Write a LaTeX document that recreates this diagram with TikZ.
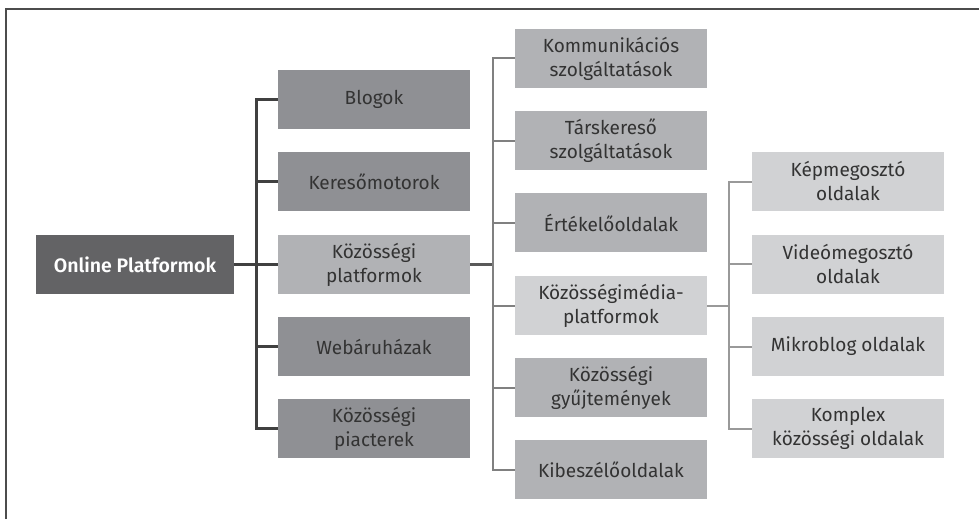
\documentclass[tikz,border=0pt]{standalone}
\usepackage{fontspec}
\setmainfont{Fira Sans}[BoldFont=Fira Sans SemiBold]
\definecolor{rootgray}{HTML}{636365}
\definecolor{darkbox}{HTML}{8F9094}
\definecolor{midbox}{HTML}{B1B2B5}
\definecolor{lightbox}{HTML}{D1D2D4}
\definecolor{inkgray}{HTML}{333333}
\tikzset{
  box/.style={minimum width=192pt,minimum height=59pt,inner sep=0pt,
    align=center,text=inkgray,font=\fontsize{19}{24}\selectfont},
  rootbox/.style={box,fill=rootgray,minimum width=198pt,text=white,
    font=\fontsize{19.5}{24}\selectfont\bfseries},
  dbox/.style={box,fill=darkbox},
  mbox/.style={box,fill=midbox},
  lbox/.style={box,fill=lightbox},
  linkA/.style={draw=black!75,line width=3pt},
  linkB/.style={draw=black!50,line width=2pt},
  linkC/.style={draw=black!40,line width=2pt}
}
\begin{document}
\begin{tikzpicture}[x=1pt,y=-1pt]
 \useasboundingbox (0,0) rectangle (979,519);
 \draw[black!70,line width=1.5pt] (6,519) -- (6,9) -- (979,9);
 % root
 \node[rootbox] (root) at (135,264.5) {Online Platformok};
 % first level
 \node[dbox] (blog) at (374,99.5) {Blogok};
 \node[dbox] (kereso) at (374,181.5) {Keresőmotorok};
 \node[mbox] (kozplat) at (374,264.5) {Közösségi\\platformok};
 \node[dbox] (webaru) at (374,346.5) {Webáruházak};
 \node[dbox] (piac) at (374,428.5) {Közösségi\\piacterek};
 % second level
 \node[mbox] (komm) at (611,58.5) {Kommunikációs\\szolgáltatások};
 \node[mbox] (tars) at (611,140.5) {Társkereső\\szolgáltatások};
 \node[mbox] (ertek) at (611,222.5) {Értékelőoldalak};
 \node[lbox] (media) at (611,305.5) {Közösségimédia-\\platformok};
 \node[mbox] (gyujt) at (611,387.5) {Közösségi\\gyűjtemények};
 \node[mbox] (kibesz) at (611,469.5) {Kibeszélőoldalak};
 % third level
 \node[lbox] (kep) at (848,181.5) {Képmegosztó\\oldalak};
 \node[lbox] (video) at (848,264) {Videómegosztó\\oldalak};
 \node[lbox] (mikro) at (848,346.5) {Mikroblog oldalak};
 \node[lbox] (komplex) at (848,428.5) {Komplex\\közösségi oldalak};
 % connectors
 \draw[linkA] (root.east) -- ++(22,0) coordinate (s1);
 \draw[linkA] (s1) |- (blog.west);
 \draw[linkA] (s1) |- (kereso.west);
 \draw[linkA] (s1) |- (kozplat.west);
 \draw[linkA] (s1) |- (webaru.west);
 \draw[linkA] (s1) |- (piac.west);
 \draw[linkB,line width=3pt,draw=black!65] (kozplat.east) -- ++(23,0) coordinate (s2);
 \draw[linkB] (s2) |- (komm.west);
 \draw[linkB] (s2) |- (tars.west);
 \draw[linkB] (s2) |- (ertek.west);
 \draw[linkB] (s2) |- (media.west);
 \draw[linkB] (s2) |- (gyujt.west);
 \draw[linkB] (s2) |- (kibesz.west);
 \draw[linkC] (media.east) -- ++(22,0) coordinate (s3);
 \draw[linkC] (s3) |- (kep.west);
 \draw[linkC] (s3) |- (video.west);
 \draw[linkC] (s3) |- (mikro.west);
 \draw[linkC] (s3) |- (komplex.west);
\end{tikzpicture}
\end{document}
